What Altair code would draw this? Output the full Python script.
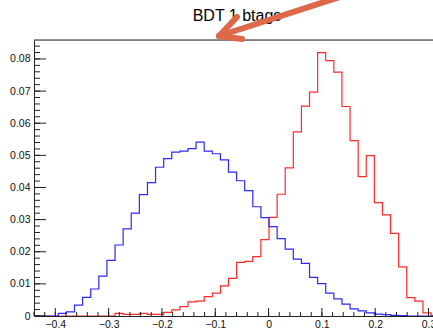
import altair as alt
import numpy as np
import pandas as pd

# Histogram binning: 50 bins of equal width starting at X_MIN
X_MIN = -0.44
BIN_W = 0.0152
X_VIEW_MAX = 0.3084
Y_MAX = 0.0859

TITLE = "BDT 1 btags"

# Normalised bin contents (one value per bin)
blue_vals = [0, 0, 0, 0.0008, 0.0013, 0.0034, 0.0058, 0.0084, 0.0124, 0.0173,
             0.0221, 0.0271, 0.0320, 0.0378, 0.0415, 0.0463, 0.0490, 0.0510, 0.0513, 0.0521,
             0.0541, 0.0513, 0.0505, 0.0486, 0.0448, 0.0421, 0.0390, 0.0340, 0.0306, 0.0278,
             0.0241, 0.0208, 0.0177, 0.0164, 0.0120, 0.0101, 0.0071, 0.0053, 0.0037, 0.0022,
             0.0016, 0.0010, 0.0006, 0.0004, 0.0002, 0.0001, 0, 0, 0, 0]
red_vals = [0, 0, 0, 0, 0, 0, 0, 0, 0, 0,
            0.0008, 0.0005, 0.0005, 0.0008, 0.0005, 0.0005, 0.0011, 0.0019, 0.0029, 0.0044,
            0.0046, 0.0060, 0.0071, 0.0094, 0.0117, 0.0167, 0.0170, 0.0185, 0.0238, 0.0307,
            0.0379, 0.0461, 0.0573, 0.0653, 0.0697, 0.0820, 0.0795, 0.0759, 0.0652, 0.0546,
            0.0434, 0.0499, 0.0353, 0.0315, 0.0257, 0.0153, 0.0057, 0.0046, 0.0010, 0.0002]

x_major = [-0.4, -0.3, -0.2, -0.1, 0.0, 0.1, 0.2, 0.3]
y_major = [0, 0.01, 0.02, 0.03, 0.04, 0.05, 0.06, 0.07, 0.08]
x_minor = [round(v, 3) for v in np.arange(-0.44, X_VIEW_MAX, 0.02)]
y_minor = [round(v, 4) for v in np.arange(0, Y_MAX, 0.002)]

W, H = 399, 276
FONT = "Liberation Sans"
AXIS_COL = "#222222"


def step_frame(vals):
    edges = [X_MIN + k * BIN_W for k in range(len(vals) + 1)]
    return pd.DataFrame({"x": edges, "y": list(vals) + [vals[-1]]})


x_scale = alt.Scale(domain=[X_MIN, X_VIEW_MAX], nice=False, zero=False)
y_scale = alt.Scale(domain=[0, Y_MAX], nice=False, zero=True)

x_axis = alt.Axis(values=x_major, ticks=False, grid=False, title=None,
                  domainColor=AXIS_COL, labelFont=FONT, labelFontSize=10.5,
                  labelColor="#111111", labelPadding=3, labelFlush=False,
                  labelOverlap=False,
                  labelExpr="datum.value == 0 ? '0' : format(datum.value, '.1f')")
y_axis = alt.Axis(values=y_major, ticks=False, grid=False, title=None,
                  domainColor=AXIS_COL, labelFont=FONT, labelFontSize=10.5,
                  labelColor="#111111", labelPadding=4, labelFlush=False,
                  labelOverlap=False,
                  labelExpr="datum.value == 0 ? '0' : format(datum.value, '.2f')")


def hist(vals, color):
    return alt.Chart(step_frame(vals)).mark_line(
        interpolate="step-after", color=color, strokeWidth=1.2, clip=True
    ).encode(
        x=alt.X("x:Q", scale=x_scale, axis=x_axis),
        y=alt.Y("y:Q", scale=y_scale, axis=y_axis),
    )


red = hist(red_vals, "#ff2a2a")
blue = hist(blue_vals, "#2a2aff")


# Inward-pointing ticks, ROOT style
def xticks(vals, length):
    return alt.Chart(pd.DataFrame({"v": vals})).mark_rule(
        color=AXIS_COL, strokeWidth=1
    ).encode(
        x=alt.X("v:Q", scale=x_scale, axis=x_axis),
        y=alt.value(H), y2=alt.value(H - length),
    )


def yticks(vals, length):
    return alt.Chart(pd.DataFrame({"v": vals})).mark_rule(
        color=AXIS_COL, strokeWidth=1
    ).encode(
        y=alt.Y("v:Q", scale=y_scale, axis=y_axis),
        x=alt.value(0), x2=alt.value(length),
    )


one = pd.DataFrame({"t": [TITLE]})

frame_top = alt.Chart(one).mark_rule(color=AXIS_COL, strokeWidth=1).encode(
    x=alt.value(0), x2=alt.value(W), y=alt.value(0), y2=alt.value(0)
)

title = alt.Chart(one).mark_text(
    font=FONT, fontSize=16, color="#000000", align="center", baseline="alphabetic"
).encode(x=alt.value(203), y=alt.value(-19), text="t:N")

# Annotation arrow pointing at the frame top
ARROW = "#df6849"


def stroke(x1, y1, x2, y2):
    return alt.Chart(one).mark_rule(color=ARROW, strokeWidth=6, strokeCap="round").encode(
        x=alt.value(x1), y=alt.value(y1), x2=alt.value(x2), y2=alt.value(y2)
    )


arrow = stroke(185, -4, 315, -46) + stroke(185, -4, 203, -23) + stroke(185, -4, 208, -1)

chart = alt.layer(
    red, blue,
    xticks(x_minor, 4), xticks(x_major, 8),
    yticks(y_minor, 6), yticks(y_major, 12),
    frame_top, title, arrow,
).properties(
    width=W, height=H,
    autosize=alt.AutoSizeParams(type="none"),
    padding={"left": 34, "top": 40, "right": 0, "bottom": 18},
).configure_view(stroke=None).configure(background="white")

chart.save("out.html", embed_options={"renderer": "svg", "actions": False})
